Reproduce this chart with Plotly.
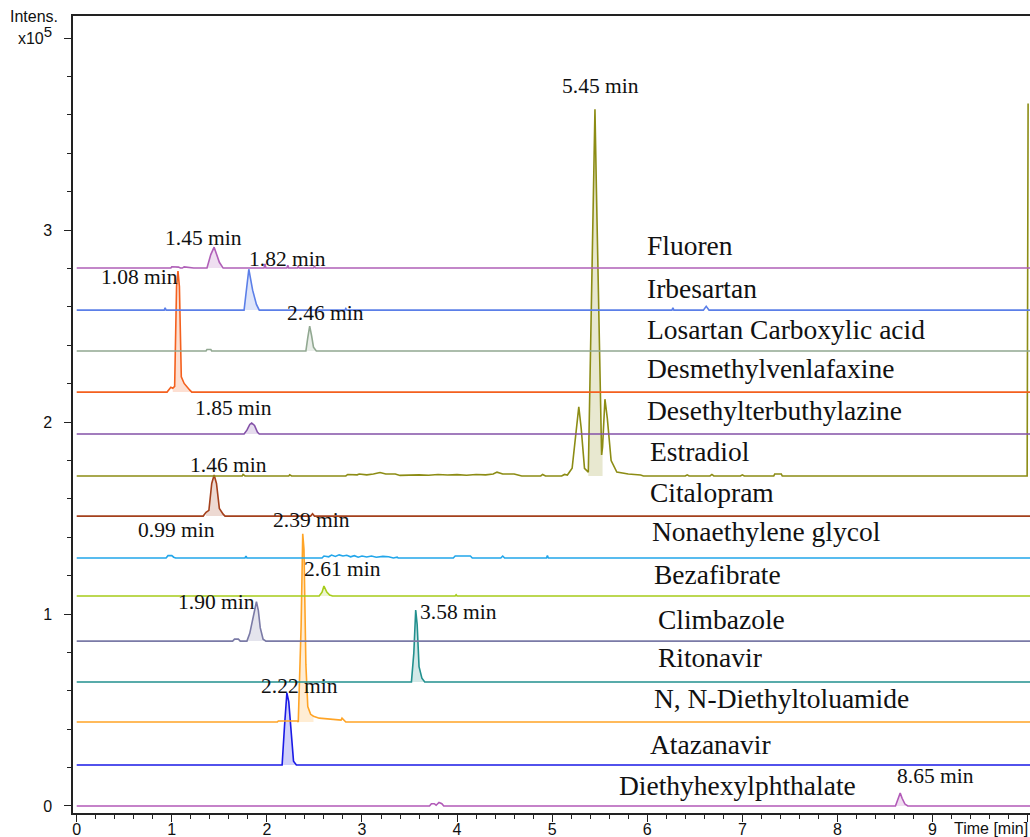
import plotly.graph_objects as go

# ---------------- data (intensity in x10^5, time in min) ----------------
names = ["Fluoren", "Irbesartan", "Losartan Carboxylic acid", "Desmethylvenlafaxine",
         "Desethylterbuthylazine", "Estradiol", "Citalopram", "Nonaethylene glycol",
         "Bezafibrate", "Climbazole", "Ritonavir", "N, N-Diethyltoluamide",
         "Atazanavir", "Diethyhexylphthalate"]
baselines = [2.802, 2.583, 2.370, 2.156, 1.9375, 1.719, 1.510, 1.292,
             1.094, 0.859, 0.646, 0.4375, 0.2135, 0.0]
colors = ["#b060b8", "#5b7fe8", "#91a891", "#f4601e", "#8452a8", "#8c8c14", "#a4401c",
          "#22a6ea", "#a6cc1a", "#7a7aa6", "#22908e", "#ffa426", "#1a1ae6", "#b25ab8"]

fluoren_t = [0, 0.99, 1.0, 1.05, 1.07, 1.09, 1.11, 1.13, 1.16, 1.18, 1.21, 1.23, 1.37, 1.41, 1.445, 1.47, 1.50, 1.54,
             1.97, 1.98, 1.99, 2.21, 2.22, 2.23, 2.32, 2.33, 2.34, 2.49, 2.50, 2.51, 10.03]
fluoren_h = [0, 0, 0.007, 0.007, 0.005, 0, 0, 0.006, 0.004, 0.006, 0.003, 0, 0, 0.07, 0.109, 0.07, 0.03, 0,
             0, 0.022, 0, 0, 0.014, 0, 0, 0.008, 0, 0, 0.01, 0, 0]

irbesartan_t = [0, 0.92, 0.93, 0.94, 1.76, 1.79, 1.81, 1.85, 1.89, 1.92, 2.82, 2.83, 2.84,
                6.26, 6.27, 6.28, 6.59, 6.62, 6.65, 10.03]
irbesartan_h = [0, 0, 0.012, 0, 0, 0.12, 0.213, 0.104, 0.03, 0, 0, 0.008, 0,
                0, 0.012, 0, 0, 0.02, 0, 0]

losartan_t = [0, 1.36, 1.37, 1.41, 1.42, 2.41, 2.43, 2.45, 2.47, 2.49, 2.52, 10.03]
losartan_h = [0, 0, 0.008, 0.008, 0, 0, 0.07, 0.13, 0.08, 0.02, 0, 0]

desmethyl_t = [0, 0.95, 0.99, 1.0, 1.01, 1.03, 1.05, 1.065, 1.08, 1.10, 1.13, 1.19, 1.21, 10.03]
desmethyl_h = [0, 0, 0.025, 0.02, 0.02, 0.03, 0.55, 0.63, 0.55, 0.08, 0.045, 0.01, 0, 0]

desethyl_t = [0, 1.76, 1.79, 1.82, 1.84, 1.87, 1.90, 1.92, 10.03]
desethyl_h = [0, 0, 0.02, 0.05, 0.057, 0.045, 0.01, 0, 0]

estradiol_t = [0, 1.74, 1.75, 1.77, 2.23, 2.24, 2.26, 2.83, 2.85, 2.95, 2.97, 3.05, 3.12, 3.19, 3.25, 3.35,
               3.40, 3.5, 3.6, 3.7, 3.8, 3.9, 4.0, 4.1, 4.2, 4.3, 4.38, 4.42, 4.48, 4.6, 4.68, 4.88,
               4.9, 4.93, 5.10, 5.13, 5.16, 5.21, 5.255, 5.28, 5.305, 5.34, 5.38, 5.435, 5.45, 5.465,
               5.52, 5.53, 5.555, 5.58, 5.62, 5.68, 5.75, 5.80, 5.93, 5.96, 6.40, 6.42, 6.44, 6.66,
               6.68, 6.70, 6.98, 7.0, 7.02, 7.33, 7.34, 7.41, 7.42, 9.995, 10.005]
estradiol_h = [0, 0, 0.008, 0, 0, 0.006, 0, 0, 0.008, 0.006, 0.01, 0.006, 0.01, 0.018, 0.01, 0.01,
               0.003, 0.005, 0.006, 0.004, 0.008, 0.005, 0.007, 0.004, 0.008, 0.006, 0.01, 0.02, 0.01, 0.01, 0.0, 0,
               0.008, 0, 0, 0.008, 0.005, 0.04, 0.25, 0.36, 0.25, 0.04, 0.02, 1.5, 1.91, 1.5,
               0.11, 0.15, 0.40, 0.3, 0.08, 0.02, 0.015, 0.01, 0.005, 0, 0, 0.006, 0, 0,
               0.008, 0, 0, 0.006, 0, 0, 0.01, 0.01, 0, 0, 1.94]

citalopram_t = [0, 1.33, 1.36, 1.39, 1.42, 1.445, 1.47, 1.50, 1.54, 1.56, 2.46, 2.48, 2.50, 10.03]
citalopram_h = [0, 0, 0.02, 0.03, 0.17, 0.214, 0.17, 0.04, 0.01, 0, 0, 0.012, 0, 0]

nonaeth_t = [0, 0.94, 0.96, 1.0, 1.02, 1.04, 1.77, 1.78, 1.79, 2.58, 2.60, 2.65, 2.68, 2.72, 2.76, 2.80,
             2.84, 2.88, 2.92, 2.96, 3.0, 3.05, 3.10, 3.15, 3.22, 3.28, 3.33, 3.37, 3.38, 3.96, 3.98,
             4.14, 4.16, 4.46, 4.48, 4.50, 4.94, 4.95, 4.96, 10.03]
nonaeth_h = [0, 0, 0.012, 0.012, 0.004, 0, 0, 0.01, 0, 0, 0.01, 0.006, 0.015, 0.008, 0.016, 0.01,
             0.014, 0.006, 0.012, 0.004, 0.01, 0.005, 0.01, 0.004, 0.008, 0.006, 0.0, 0.004, 0, 0, 0.01,
             0.01, 0, 0, 0.01, 0, 0, 0.012, 0, 0]

bezafibrate_t = [0, 2.55, 2.58, 2.60, 2.63, 2.66, 2.69, 3.98, 3.99, 4.0, 10.03]
bezafibrate_h = [0, 0, 0.02, 0.052, 0.02, 0.005, 0, 0, 0.006, 0, 0]

climbazole_t = [0, 1.64, 1.66, 1.70, 1.72, 1.79, 1.82, 1.86, 1.89, 1.91, 1.93, 1.96, 1.99, 10.03]
climbazole_h = [0, 0, 0.01, 0.01, 0, 0, 0.04, 0.14, 0.205, 0.16, 0.07, 0.01, 0, 0]

ritonavir_t = [0, 3.52, 3.545, 3.565, 3.58, 3.60, 3.63, 3.66, 10.03]
ritonavir_h = [0, 0, 0.15, 0.375, 0.3, 0.08, 0.02, 0, 0]

deet_t = [0, 2.11, 2.12, 2.32, 2.33, 2.36, 2.377, 2.39, 2.41, 2.43, 2.46, 2.49, 2.55, 2.65, 2.72, 2.78,
          2.79, 2.81, 2.83, 10.03]
deet_h = [0, 0, 0.005, 0.005, 0.0, 0.5, 0.98, 0.9, 0.3, 0.08, 0.04, 0.03, 0.02, 0.015, 0.01, 0.01,
          0.02, 0.008, 0, 0]

atazanavir_t = [0, 2.16, 2.185, 2.21, 2.23, 2.26, 2.28, 2.31, 10.03]
atazanavir_h = [0, 0, 0.2, 0.375, 0.33, 0.12, 0.02, 0, 0]

dehp_t = [0, 3.71, 3.73, 3.76, 3.78, 3.81, 3.84, 3.86, 8.61, 8.64, 8.66, 8.68, 8.71, 8.74, 10.03]
dehp_h = [0, 0, 0.012, 0.012, 0.004, 0.018, 0.012, 0, 0, 0.04, 0.068, 0.04, 0.01, 0, 0]

series_t = [fluoren_t, irbesartan_t, losartan_t, desmethyl_t, desethyl_t, estradiol_t, citalopram_t,
            nonaeth_t, bezafibrate_t, climbazole_t, ritonavir_t, deet_t, atazanavir_t, dehp_t]
series_h = [fluoren_h, irbesartan_h, losartan_h, desmethyl_h, desethyl_h, estradiol_h, citalopram_h,
            nonaeth_h, bezafibrate_h, climbazole_h, ritonavir_h, deet_h, atazanavir_h, dehp_h]

# integrated peak windows (min)
fill_start = [1.37, 1.76, 2.41, 1.01, 1.76, 5.38, 1.36, None, 2.55, 1.79, 3.52, 2.33, 2.16, 8.61]
fill_end = [1.54, 1.92, 2.52, 1.21, 1.92, 5.53, 1.56, None, 2.69, 1.99, 3.66, 2.49, 2.31, 8.74]

# peak labels
peak_labels = ["5.45 min", "1.45 min", "1.82 min", "1.08 min", "2.46 min", "1.85 min", "1.46 min",
               "0.99 min", "2.39 min", "2.61 min", "1.90 min", "3.58 min", "2.22 min", "8.65 min"]
peak_label_x = [5.51, 1.33, 2.22, 0.66, 2.62, 1.65, 1.60, 1.05, 2.47, 2.80, 1.47, 4.02, 2.34, 9.03]
peak_label_y = [3.75, 2.958, 2.849, 2.755, 2.568, 2.073, 1.776, 1.4375, 1.49, 1.234, 1.0625, 1.01, 0.625, 0.156]

name_label_x = [5.98, 5.98, 5.98, 5.98, 5.98, 6.01, 6.01, 6.03, 6.05, 6.09, 6.09, 6.05, 6.01, 5.68]
name_label_y = [2.922, 2.693, 2.484, 2.281, 2.0625, 1.849, 1.635, 1.432, 1.208, 0.969, 0.776, 0.5625, 0.318, 0.109]

y_tick_vals = [0, 1, 2, 3, 4]
y_tick_text = ["0", "1", "2", "3", "x10<sup><span style='font-size:15px'>5</span></sup>"]


def rgba(hex_color, a):
    h = hex_color.lstrip("#")
    r, g, b = int(h[0:2], 16), int(h[2:4], 16), int(h[4:6], 16)
    return f"rgba({r},{g},{b},{a})"


fig = go.Figure()

# draw from bottom series up so upper traces lie on top
for i in reversed(range(len(names))):
    b = baselines[i]
    ts, hs = series_t[i], series_h[i]
    if fill_start[i] is not None:
        fx = [t for t in ts if fill_start[i] <= t <= fill_end[i]]
        fy = [b + h for t, h in zip(ts, hs) if fill_start[i] <= t <= fill_end[i]]
        fig.add_trace(go.Scatter(x=[fx[0]] + fx + [fx[-1]], y=[b] + fy + [b],
                                 mode="lines", fill="toself", fillcolor=rgba(colors[i], 0.2),
                                 line=dict(width=0), hoverinfo="skip", showlegend=False))
    fig.add_trace(go.Scatter(x=ts, y=[b + h for h in hs], mode="lines",
                             line=dict(color=colors[i], width=1.6), name=names[i], showlegend=False))

for i, n in enumerate(names):
    fig.add_annotation(x=name_label_x[i], y=name_label_y[i], text=n, showarrow=False,
                       xanchor="left", yanchor="middle",
                       font=dict(family="Liberation Serif", size=27.5, color="#111111"))

for i, p in enumerate(peak_labels):
    fig.add_annotation(x=peak_label_x[i], y=peak_label_y[i], text=p, showarrow=False,
                       xanchor="center", yanchor="middle",
                       font=dict(family="Liberation Serif", size=21.5, color="#111111"))

fig.add_annotation(xref="paper", yref="paper", x=-0.0135, y=0.9995, text="Intens.", showarrow=False,
                   xanchor="right", yanchor="middle", font=dict(family="Liberation Sans", size=16, color="#111"))
fig.add_annotation(xref="paper", yref="paper", x=1.0, y=0, yshift=-15, text="Time [min]", showarrow=False,
                   xanchor="right", yanchor="middle", font=dict(family="Liberation Sans", size=16, color="#111"))

fig.update_layout(
    width=1030, height=837,
    margin=dict(l=73, r=0, t=16, b=24),
    paper_bgcolor="white", plot_bgcolor="white",
    xaxis=dict(range=[-0.039, 10.025], tickmode="linear", tick0=0, dtick=1, automargin=False,
               showgrid=False, zeroline=False, showline=True, mirror=True,
               linecolor="#222", linewidth=1.5, ticks="outside", ticklen=7, tickwidth=1.3,
               tickcolor="#222", ticklabelstandoff=-6,
               tickfont=dict(family="Liberation Sans", size=16, color="#111"),
               minor=dict(dtick=0.2, ticks="outside", ticklen=4, tickwidth=1.2, tickcolor="#222")),
    yaxis=dict(range=[-0.0365, 4.115], tickmode="array", tickvals=y_tick_vals, ticktext=y_tick_text,
               automargin=False,
               showgrid=False, zeroline=False, showline=True, mirror=False,
               linecolor="#222", linewidth=1.5, ticks="outside", ticklen=7, tickwidth=1.3,
               tickcolor="#222", ticklabelstandoff=9,
               tickfont=dict(family="Liberation Sans", size=16, color="#111"),
               minor=dict(dtick=0.2, ticks="outside", ticklen=4, tickwidth=1.2, tickcolor="#222")),
)

# remove the browser's default 8px body margin so the figure fills the window exactly
fig.write_html("out.html", config={"displayModeBar": False},
               post_script="document.body.style.margin='0';document.body.style.overflow='hidden';")
